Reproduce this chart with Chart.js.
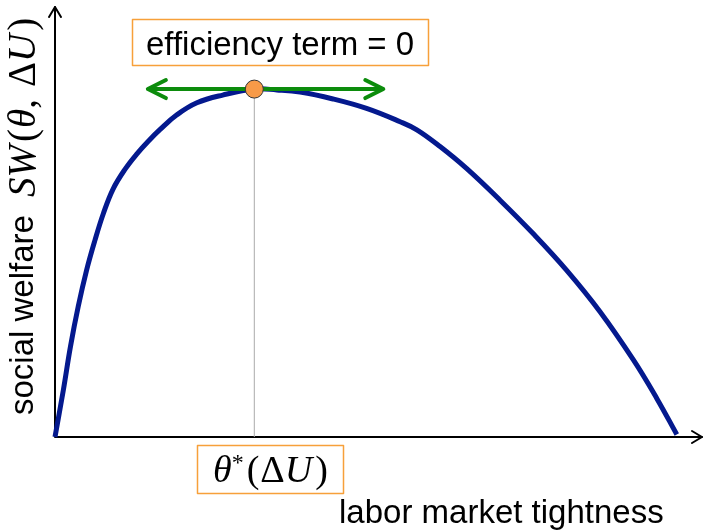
<!DOCTYPE html>
<html>
<head>
<meta charset="utf-8">
<script src="https://cdn.jsdelivr.net/npm/chart.js@4/dist/chart.umd.min.js"></script>
<style>
  html, body { margin: 0; padding: 0; background: #fff; overflow: hidden; }
  #wrap { width: 704px; height: 531px; }
</style>
</head>
<body>
<div id="wrap"><canvas id="chart"></canvas></div>
<script>
// ===== データ =====
const theta   = [0, 0.13, 0.24, 0.36, 0.49, 0.62, 0.75, 0.90, 1.09, 1.27, 1.45, 1.63, 1.89, 2.20, 2.60, 3.09, 3.44, 3.80, 4.31, 4.83, 5.35, 5.61, 5.97, 6.38, 6.90, 7.42, 7.93, 8.45, 8.97, 9.33, 9.64];
const welfare = [0, 1.10, 2.11, 3.04, 3.89, 4.59, 5.21, 5.78, 6.25, 6.60, 6.90, 7.17, 7.51, 7.79, 7.97, 8.11, 8.09, 8.04, 7.88, 7.66, 7.35, 7.16, 6.77, 6.26, 5.52, 4.73, 3.89, 2.92, 1.79, 0.90, 0.06];
const thetaStar = 3.09;
const welfareStar = 8.11;
const tangentTheta = [1.44, 5.09];
const axisMin = 0;
const axisMax = 10;

const topLabel = 'efficiency term = 0';
const xLabel = 'labor market tightness';
const yLabel = 'social welfare';

// ===== 色 =====
const BLUE = '#04198e';
const GREEN = '#0c8c0c';
const ORANGE = '#f7a03a';
const DOT = '#f79a48';

const SANS = '"Liberation Sans", Arial, sans-serif';
const SERIF = '"Liberation Serif", "Times New Roman", serif';

// 数式の断片を順に描く
function drawRuns(ctx, runs, x, y) {
  let cx = x;
  runs.forEach(r => {
    ctx.font = r.font;
    ctx.fillText(r.t, cx, y + (r.dy || 0));
    cx += ctx.measureText(r.t).width + (r.gap || 0);
  });
  return cx - x;
}

function chevron(ctx, x, y, dx, dy, len, half) {
  const px = -dy, py = dx;
  ctx.beginPath();
  ctx.moveTo(x - dx * len + px * half, y - dy * len + py * half);
  ctx.lineTo(x, y);
  ctx.lineTo(x - dx * len - px * half, y - dy * len - py * half);
  ctx.stroke();
}

const decorPlugin = {
  id: 'decor',
  beforeDatasetsDraw(chart) {
    const { ctx, scales: { x, y } } = chart;
    const x0 = x.getPixelForValue(axisMin);
    const y0 = y.getPixelForValue(axisMin);
    ctx.save();
    ctx.strokeStyle = '#000';
    ctx.lineWidth = 2;
    ctx.lineCap = 'round';
    ctx.lineJoin = 'round';
    // 軸
    ctx.beginPath();
    ctx.moveTo(x0, y0); ctx.lineTo(x0, 7);
    ctx.moveTo(x0, y0); ctx.lineTo(702, y0);
    ctx.stroke();
    chevron(ctx, x0, 7, 0, -1, 10, 6);
    chevron(ctx, 702, y0, 1, 0, 10, 6);
    ctx.restore();
  },
  afterDatasetsDraw(chart) {
    const { ctx, scales: { x, y } } = chart;
    ctx.save();
    // 緑の矢印の先端
    ctx.strokeStyle = GREEN;
    ctx.lineWidth = 4;
    ctx.lineCap = 'round';
    ctx.lineJoin = 'round';
    const ty = y.getPixelForValue(welfareStar);
    chevron(ctx, x.getPixelForValue(tangentTheta[0]), ty, -1, 0, 18, 9);
    chevron(ctx, x.getPixelForValue(tangentTheta[1]), ty, 1, 0, 18, 9);

    ctx.fillStyle = '#000';
    ctx.textBaseline = 'alphabetic';
    ctx.textAlign = 'left';

    // 上のラベル
    ctx.strokeStyle = ORANGE;
    ctx.lineWidth = 1.5;
    ctx.strokeRect(132.5, 19.5, 296, 46);
    ctx.font = `33px ${SANS}`;
    ctx.fillText(topLabel, 146, 55);

    // θ*(ΔU) ラベル
    ctx.strokeRect(197.5, 445.5, 146, 48);
    const it = `italic 38px ${SERIF}`, up = `38px ${SERIF}`;
    drawRuns(ctx, [
      { t: 'θ', font: it },
      { t: '*', font: `24px ${SERIF}`, dy: -12, gap: 3 },
      { t: '(', font: up, gap: 1 },
      { t: 'Δ', font: up },
      { t: 'U', font: it, gap: 3 },
      { t: ')', font: up }
    ], 213, 482);

    // x軸ラベル
    ctx.font = `33px ${SANS}`;
    ctx.fillText(xLabel, 339, 523);

    // y軸ラベル（回転）
    ctx.translate(33, 415);
    ctx.rotate(-Math.PI / 2);
    ctx.font = `33px ${SANS}`;
    ctx.fillText(yLabel, 0, 0);
    const it2 = `italic 39px ${SERIF}`, up2 = `39px ${SERIF}`;
    drawRuns(ctx, [
      { t: 'S', font: it2 },
      { t: 'W', font: it2, gap: 3 },
      { t: '(', font: up2, gap: 1 },
      { t: 'θ', font: it2 },
      { t: ',', font: up2, gap: 12 },
      { t: 'Δ', font: up2 },
      { t: 'U', font: it2, gap: 3 },
      { t: ')', font: up2 }
    ], 218, 2);
    ctx.restore();
  }
};

new Chart(document.getElementById('chart'), {
  type: 'scatter',
  data: {
    datasets: [
      {
        label: 'optimum',
        data: [{ x: thetaStar, y: welfareStar }],
        pointRadius: 9,
        pointBackgroundColor: DOT,
        pointBorderColor: '#333',
        pointBorderWidth: 1,
        clip: false
      },
      {
        label: 'tangent',
        type: 'line',
        data: tangentTheta.map(t => ({ x: t, y: welfareStar })),
        borderColor: GREEN,
        borderWidth: 4,
        pointRadius: 0,
        clip: false
      },
      {
        label: 'SW',
        type: 'line',
        data: theta.map((t, i) => ({ x: t, y: welfare[i] })),
        borderColor: BLUE,
        borderWidth: 5,
        pointRadius: 0,
        tension: 0.4,
        borderCapStyle: 'butt',
        clip: false
      },
      {
        label: 'drop',
        type: 'line',
        data: [{ x: thetaStar, y: axisMin }, { x: thetaStar, y: welfareStar }],
        borderColor: '#aaaaaa',
        borderWidth: 1,
        pointRadius: 0,
        clip: false
      }
    ]
  },
  options: {
    responsive: true,
    maintainAspectRatio: false,
    animation: false,
    layout: { autoPadding: false, padding: { left: 55, right: 4, top: 8, bottom: 94 } },
    plugins: { legend: { display: false }, tooltip: { enabled: false } },
    scales: {
      x: { type: 'linear', min: axisMin, max: axisMax, display: false },
      y: { type: 'linear', min: axisMin, max: axisMax, display: false }
    }
  },
  plugins: [decorPlugin]
});
</script>
</body>
</html>
